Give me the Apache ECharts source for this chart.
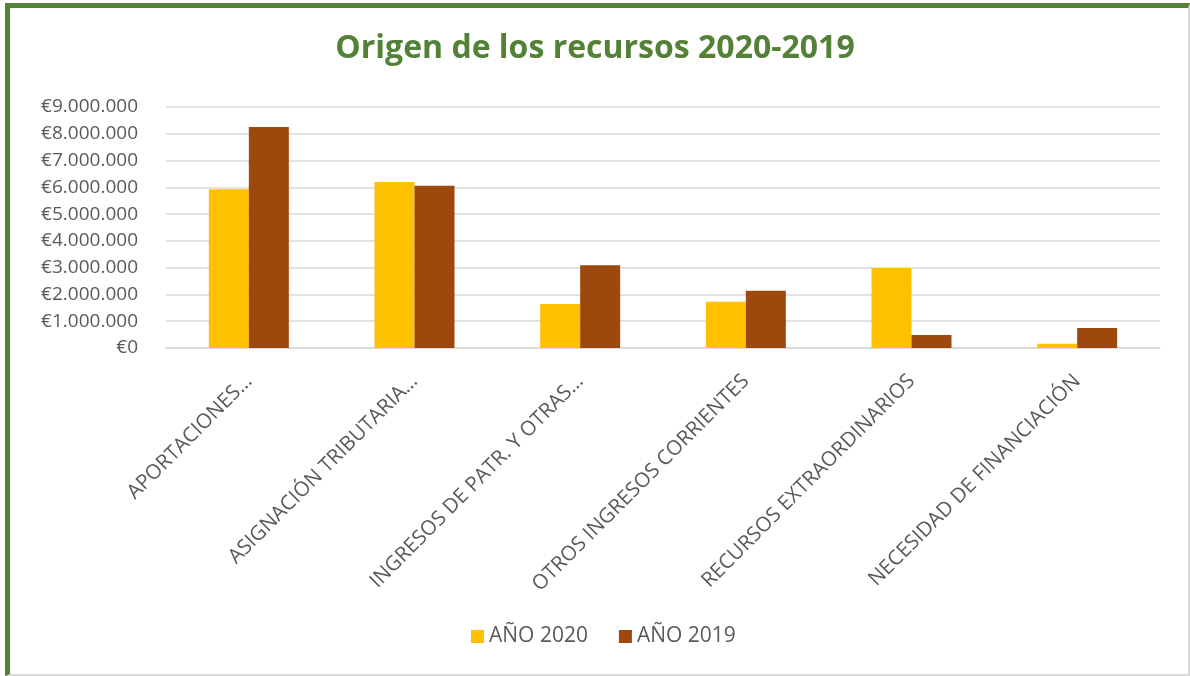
<!DOCTYPE html>
<html>
<head>
<meta charset="utf-8">
<script src="https://cdn.jsdelivr.net/npm/echarts@6/dist/echarts.min.js"></script>
<style>
html,body{margin:0;padding:0;background:#fff;}
#chart{position:absolute;left:0;top:0;width:1190px;height:676px;}
#frame{position:absolute;left:5px;top:3px;width:1178px;height:666px;border-top:5px solid #538135;border-left:5px solid #538135;border-right:2px solid #d9d9d9;border-bottom:2px solid #d9d9d9;pointer-events:none;}
</style>
</head>
<body>
<div id="chart"></div>
<div id="frame"></div>
<script>
const categories = ["APORTACIONES…", "ASIGNACIÓN TRIBUTARIA…", "INGRESOS DE PATR. Y OTRAS…", "OTROS INGRESOS CORRIENTES", "RECURSOS EXTRAORDINARIOS", "NECESIDAD DE FINANCIACIÓN"];
const seriesNames = ["AÑO 2020", "AÑO 2019"];
const values2020 = [5930000, 6200000, 1640000, 1730000, 2990000, 160000];
const values2019 = [8250000, 6060000, 3090000, 2140000, 490000, 750000];

function fmtEuro(v){
  return '€' + String(Math.round(v)).replace(/\B(?=(\d{3})+(?!\d))/g, '.');
}

const chart = echarts.init(document.getElementById('chart'));
const font = 'Open Sans';
chart.setOption({
  animation:false,
  backgroundColor:'#fff',
  title:{
    text:'Origen de los recursos 2020-2019',
    left:'center', top:28,
    textStyle:{fontFamily:font,fontSize:32,fontWeight:'bold',color:'#538135'}
  },
  legend:{
    bottom:24, left:466,
    itemWidth:13, itemHeight:13, itemGap:31,
    icon:'rect',
    textStyle:{fontFamily:font,fontSize:21,color:'#595959'},
    data:seriesNames
  },
  grid:{left:166,right:30,top:107,bottom:328,containLabel:false},
  xAxis:{
    type:'category',
    data:categories,
    axisLine:{lineStyle:{color:'#d9d9d9',width:1.5}},
    axisTick:{show:false},
    axisLabel:{rotate:45,fontFamily:font,fontSize:20.5,color:'#595959',margin:30,interval:0}
  },
  yAxis:{
    type:'value',
    min:0,max:9000000,interval:1000000,
    axisLine:{show:false},
    axisTick:{show:false},
    splitLine:{lineStyle:{color:'#d9d9d9',width:1.5}},
    axisLabel:{formatter:fmtEuro,fontFamily:font,fontSize:19,color:'#595959',margin:28}
  },
  series:[
    {name:seriesNames[0],type:'bar',data:values2020,barWidth:40,barGap:'0%',itemStyle:{color:'#FFC000'}},
    {name:seriesNames[1],type:'bar',data:values2019,barWidth:40,barGap:'0%',itemStyle:{color:'#9E480E'}}
  ]
});
</script>
</body>
</html>
